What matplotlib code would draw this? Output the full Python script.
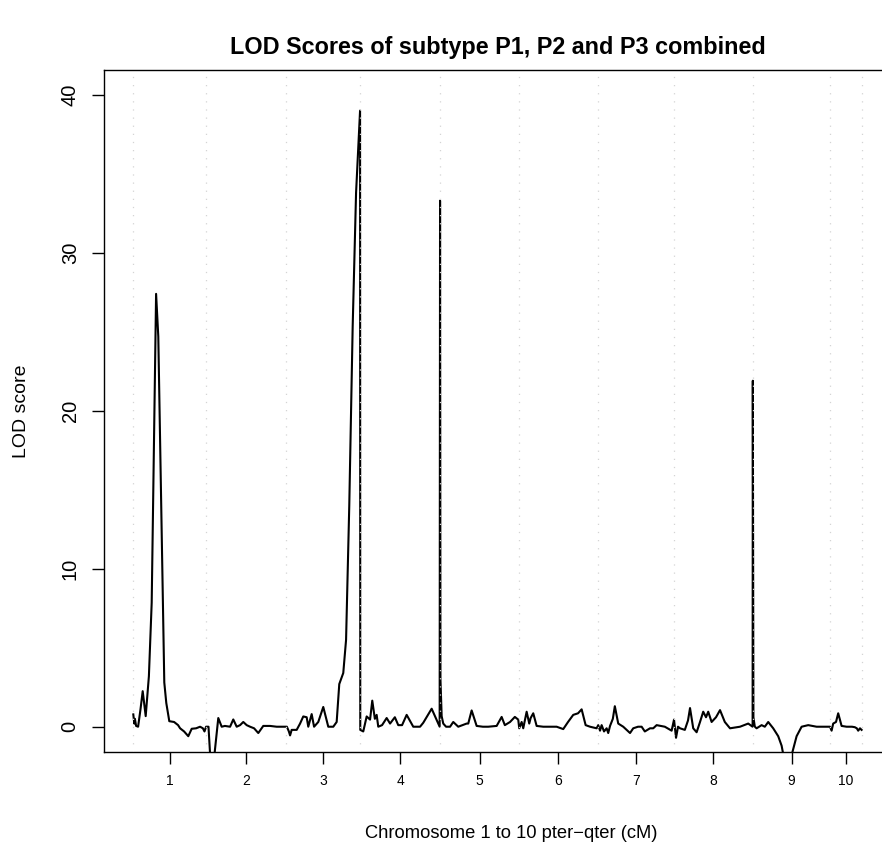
import numpy as np
import matplotlib
matplotlib.use("Agg")
import matplotlib.pyplot as plt

plt.rcParams['font.family'] = ['Liberation Sans', 'DejaVu Sans']

# chromosome lengths (cM), chromosomes 1..10 laid end to end
chr_len = [182, 199, 186, 200, 198, 196, 190, 198, 194, 78]
chr_names = ['1', '2', '3', '4', '5', '6', '7', '8', '9', '10']

# cumulative map position (cM) and LOD score, chromosome by chromosome
pos = [
    # chr 1
    0, 2.5, 4, 7, 12, 18, 23.5, 31, 39, 46, 57, 62.5, 77.5, 82.5, 90, 102,
    112, 117, 127, 137.5, 146, 157, 167, 174, 178, 182,
    # chr 2
    188, 194, 200, 204, 212.5, 221, 229, 242, 250, 258.5, 267, 275, 283.5,
    292, 302, 312.5, 325, 342, 358.5, 379,
    # chr 3
    384, 389, 392, 396, 408.5, 417, 425, 433.5, 437.5, 446, 452, 462.5, 475,
    487.5, 500, 508.5, 515, 525, 532, 540, 548.5, 557, 567,
    # chr 4
    567.5, 575, 583.5, 592, 597.5, 604, 608.5, 612.5, 622, 633.5, 642, 654,
    662.5, 672, 683.5, 700, 717, 725, 746, 762.5, 766, 767,
    # chr 5
    768, 771, 775, 782, 792, 800, 812.5, 833.5, 837.5, 846, 858.5, 874,
    887.5, 908.5, 921, 929, 942, 954, 962.5, 965,
    # chr 6
    971, 975, 983.5, 990, 993.5, 1000, 1008.5, 1025, 1042, 1058.5, 1075,
    1087, 1100, 1112, 1121, 1131, 1142, 1158.5,
    # chr 7
    1162.5, 1167, 1171, 1177, 1183.5, 1187.5, 1192, 1199, 1204, 1212.5,
    1225, 1242, 1250, 1262, 1271, 1279, 1292, 1300, 1308.5, 1329, 1346,
    # chr 8
    1352, 1357, 1362, 1367, 1379, 1387, 1392, 1400, 1408.5, 1417, 1425,
    1432, 1437.5, 1446, 1457, 1467, 1479, 1492, 1517, 1537.5, 1548.5, 1549,
    # chr 9
    1550.5, 1554, 1558.5, 1571, 1579, 1587.5, 1600, 1612.5, 1621, 1627,
    1632, 1639, 1646, 1658.5, 1671, 1687.5, 1708.5, 1729, 1742,
    # chr 10
    1746, 1750, 1757, 1762.5, 1771, 1783.5, 1797, 1804, 1809, 1812.5,
    1817, 1821,
]

lod = [
    # chr 1
    0.78, 0.2, 0.5, 0.05, 0.0, 1.1, 2.25, 0.67, 3.2, 7.85, 27.4, 24.7, 2.8,
    1.5, 0.35, 0.3, 0.1, -0.1, -0.3, -0.6, -0.13, -0.1, 0.0, -0.1, -0.3, 0.0,
    # chr 2
    0.0, -2.6, -2.6, -1.5, 0.55, 0.0, 0.05, 0.0, 0.46, 0.0, 0.1, 0.3, 0.1,
    0.0, -0.1, -0.4, 0.05, 0.05, 0.0, 0.0,
    # chr 3
    0.0, -0.3, -0.55, -0.2, -0.2, 0.2, 0.65, 0.6, 0.0, 0.8, 0.0, 0.3, 1.25,
    0.0, 0.0, 0.3, 2.7, 3.4, 5.5, 14.0, 25.3, 33.8, 39.0,
    # chr 4
    -0.2, -0.3, 0.65, 0.45, 1.65, 0.5, 0.75, 0.0, 0.1, 0.55, 0.2, 0.6, 0.1,
    0.1, 0.75, 0.0, 0.0, 0.25, 1.14, 0.2, 0.0, 33.3,
    # chr 5
    3.0, 0.67, 0.2, 0.0, 0.0, 0.3, 0.0, 0.2, 0.2, 1.03, 0.05, 0.0, 0.0,
    0.05, 0.62, 0.1, 0.3, 0.62, 0.45, -0.1,
    # chr 6
    0.3, -0.1, 0.95, 0.2, 0.55, 0.85, 0.05, 0.0, 0.0, 0.0, -0.15, 0.3, 0.75,
    0.85, 1.1, 0.1, 0.0, -0.1,
    # chr 7
    0.1, -0.25, 0.1, -0.3, -0.1, -0.4, 0.05, 0.5, 1.3, 0.2, 0.0, -0.4, -0.1,
    0.0, 0.0, -0.3, -0.1, -0.1, 0.1, 0.0, -0.25,
    # chr 8
    0.45, -0.7, 0.0, -0.1, -0.2, 0.4, 1.18, -0.1, -0.35, 0.3, 0.95, 0.6,
    0.95, 0.3, 0.6, 1.05, 0.3, -0.1, 0.0, 0.2, 0.0, 21.9,
    # chr 9
    0.6, 0.0, -0.1, 0.1, 0.0, 0.3, -0.1, -0.6, -1.2, -2.0, -2.8, -2.8, -1.8,
    -0.6, 0.0, 0.1, 0.0, 0.0, 0.0,
    # chr 10
    -0.25, 0.2, 0.3, 0.85, 0.05, 0.0, 0.0, -0.03, -0.1, -0.25, -0.1, -0.2,
]

bounds = np.concatenate([[0], np.cumsum(chr_len)])
mids = (bounds[:-1] + bounds[1:]) / 2

fig = plt.figure(figsize=(8.82, 8.5), dpi=100)
ax = fig.add_axes([0.1181, 0.1153, 0.8918, 0.8029])

ax.plot(pos, lod, color='black', lw=1.5, zorder=2)

# chromosome boundaries
for b in bounds:
    ax.axvline(b, color='#d4d4d4', lw=0.9, ls=(0, (1, 5.5)), zorder=3)

span = bounds[-1] - bounds[0]
ax.set_xlim(bounds[0] - 0.04 * span, bounds[-1] + 0.04 * span)
ax.set_ylim(-1.6, 41.6)

ax.set_xticks(mids)
ax.set_xticklabels(chr_names, fontsize=10)
ax.set_yticks([0, 10, 20, 30, 40])
ax.set_yticklabels(['0', '10', '20', '30', '40'], fontsize=14.5,
                   rotation=90, va='center')
ax.tick_params(direction='out', length=8.6, width=1.0)
ax.tick_params(axis='x', pad=7)
ax.tick_params(axis='y', pad=9)

for s in ax.spines.values():
    s.set_linewidth(1.0)

ax.set_title('LOD Scores of subtype P1, P2 and P3 combined',
             fontsize=16.8, fontweight='bold', pad=11)
ax.set_xlabel('Chromosome 1 to 10 pter\u2212qter (cM)', fontsize=13.2)
ax.xaxis.set_label_coords(0.517, -0.107)
ax.set_ylabel('LOD score', fontsize=14, labelpad=22)

fig.savefig('out.png', dpi=100)
